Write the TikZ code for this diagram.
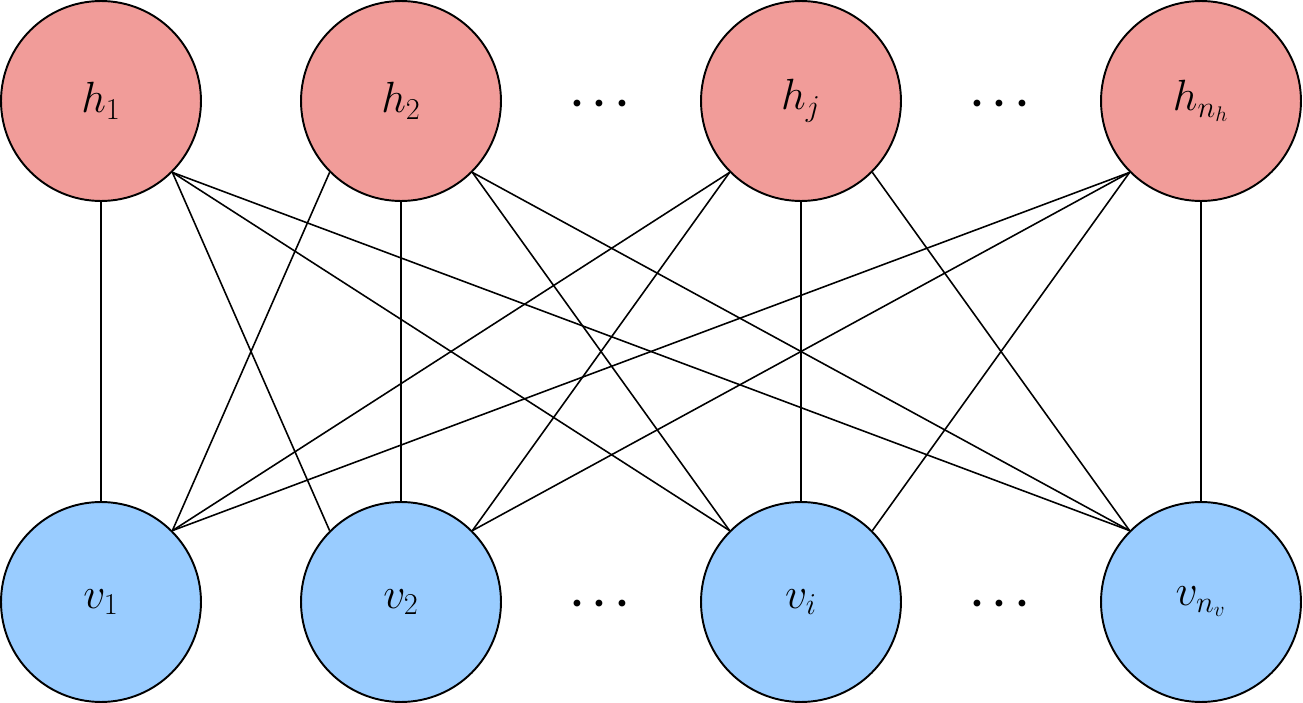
\documentclass[tikz,border=0pt]{standalone}
\usepackage{tikz}
\definecolor{hred}{HTML}{F19C99}
\definecolor{vblue}{HTML}{99CCFF}
\begin{document}
\begin{tikzpicture}[x=0.02cm,y=-0.02cm,
  unit/.style={circle,draw=black,line width=1.1pt,minimum size=4cm,inner sep=0pt,font=\fontsize{26}{30}\selectfont},
  hid/.style={unit,fill=hred},
  vis/.style={unit,fill=vblue},
  dotsnode/.style={inner sep=0pt,font=\fontsize{40}{46}\selectfont\boldmath},
  link/.style={line width=0.9pt}]
\useasboundingbox (0,0) rectangle (1303,703);
\node[hid] (h1) at (101,101) {$h_1$};
\node[hid] (h2) at (401,101) {$h_2$};
\node[hid] (h3) at (801,101) {$h_j$};
\node[hid] (h4) at (1201,101) {$h_{n_h}$};
\node[vis] (v1) at (101,602) {$v_1$};
\node[vis] (v2) at (401,602) {$v_2$};
\node[vis] (v3) at (801,602) {$v_i$};
\node[vis] (v4) at (1201,602) {$v_{n_v}$};
\node[dotsnode] (d1) at (600,104) {$\cdots$};
\node[dotsnode] (d2) at (1000,104) {$\cdots$};
\node[dotsnode] (d3) at (600,604) {$\cdots$};
\node[dotsnode] (d4) at (1000,604) {$\cdots$};
\foreach \a in {1,2,3,4}{
  \foreach \b in {1,2,3,4}{
    \ifnum\a=\b
      \draw[link] (h\a.south) -- (v\b.north);
    \else\ifnum\a<\b
      \draw[link] (h\a.south east) -- (v\b.north west);
    \else
      \draw[link] (h\a.south west) -- (v\b.north east);
    \fi\fi
  }
}
\end{tikzpicture}
\end{document}
